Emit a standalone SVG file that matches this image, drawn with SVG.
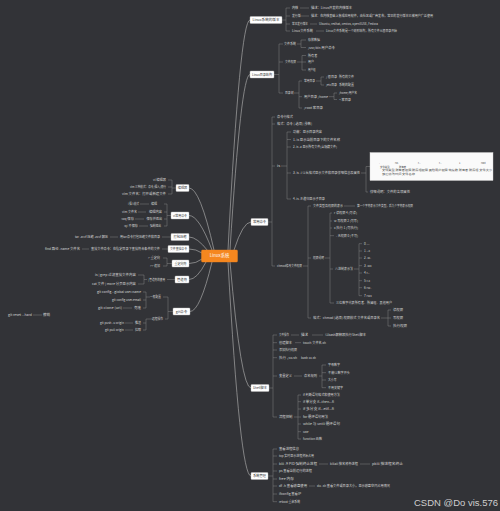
<svg xmlns="http://www.w3.org/2000/svg" width="500" height="511" viewBox="0 0 500 511">
<style>
.t{font-family:"Noto Sans CJK SC","Noto Sans",sans-serif;font-size:3.1px;fill:#d6d6d6}
.e{text-anchor:end}
.n rect{fill:#fff;stroke:#bdbdbd;stroke-width:0.4}
.n text{font-family:"Noto Sans CJK SC","Noto Sans",sans-serif;font-size:3.3px;fill:#333;text-anchor:middle}
.l{fill:none;stroke:#8a8a8a;stroke-width:0.45}
.c{fill:none;stroke:#a6a6a6;stroke-width:0.7}
.tb{font-family:"Noto Sans CJK SC","Noto Sans",sans-serif;font-size:2.4px;fill:#444}
.wm{font-family:"Liberation Sans",Arial,sans-serif;font-size:9.6px;fill:#cfcfcf}
</style>
<rect width="500" height="511" fill="#323337"/>

<g id="connectors">
<path class="c" d="M228 250Q240 20 250 20M230 250Q241 74.5 250 74.5M234 250Q243 222 251 222M230 262Q241 388 251 388M228 262Q240 476 251 476"/>
<path class="c" d="M214 250Q200 188 189 188M212 250Q199 215.5 189 215.5M208 251Q197 237 189 237M202 253Q196 249 189 249M202 259Q196 263.5 189 263.5M206 262Q197 279.5 189 279.5M212 262Q200 311.5 190 311.5"/>
<path class="l" d="M282 20H286M286 8V31M286 8H290M286 16H290M286 24H290M286 31H290M300 8H309M300 16H309M310 24H317M316 31H324"/>
<path class="l" d="M274 74.5H279M279 44V93M279 44H283M279 62H283M279 93H283M297 44H301M301 40V47.5M301 40H306M301 47.5H306M297 62H302M302 55.5V70M302 55.5H306M302 62H306M302 70H306M294 93H299M299 81V108M299 81H302M299 96.7H302M299 108H302M316 81H321M321 77V85M321 77H324M321 85H324M329 96.7H334M334 93V99.5M334 93H337M334 99.5H337"/>
<path class="l" d="M268 222H272M272 117V266M272 117H275M272 124H275M272 166H275M272 266H275M281 166H287M287 132V199M287 132H291M287 139.5H291M287 147H291M287 173H291M287 199H291M361 173H366M366 166.5V192M366 166.5H370M366 192H368M303 266H308M308 206V318M308 206H311M308 258H311M308 318H311M344 206H355M325 258H330M330 213V303M330 213H332M330 221H332M330 228H332M330 235.7H334M330 269H333M330 303H334M354 269H359M359 243.7V295.7M359 243.7H362M359 251H362M359 258H362M359 265.7H362M359 273H362M359 280.7H362M359 287.7H362M359 295.7H362M381 318H388M388 310V326M388 310H391M388 318H391M388 326H391"/>
<path class="l" d="M269 388H273M273 335V417M273 335H277M273 342.7H277M273 350H277M273 357.7H277M273 376H277M273 417H277M291 335H299M312 335H323M295 342.7H301M294 376H302M319 376H322M322 365V387.7M322 365H326M322 372.7H326M322 380H326M322 387.7H326M294 417H298M298 395V439M298 395H301M298 401.7H301M298 409H301M298 417H301M298 424H301M298 431.7H301M298 439H301"/>
<path class="l" d="M268 476H273M273 449V501.7M273 449H277M273 456H277M273 464H277M273 471H277M273 479H277M273 486H277M273 494H277M273 501.7H277M319 464H328M360 464H370M309 486H315"/>
<path class="l" d="M176 188H172M172 180V194M172 180H168M172 187H168M172 194H168M171 215.5H167M167 204V226M167 204H164M167 212H164M167 219H164M167 226H164M140 204H149M138 212H146M135 219H144M139 226H148"/>
<path class="l" d="M171 237H162M110 237H118M168 249H162M82 249H89M172 263.5H167M167 258V266M167 258H163M167 266H163M175 279.5H167M147 279.5H144M144 275V284M144 275H138M144 284H138"/>
<path class="l" d="M173 311.5H168M168 297V319M168 297H163M168 319H165M150 297H146M146 292V308M146 292H143M146 300H143M146 308H143M152 319H146M146 319V330M146 323H143M146 330H143M123 308H132M125 323H133M125 330H133M33 315H42"/>
</g>

<g id="center" class="n">
<rect x="201.5" y="250" width="36" height="12" rx="1" style="fill:#f5871f;stroke:#f5871f"/>
<text x="219.5" y="257.4" style="fill:#fff;font-size:4.3px">Linux系统</text>
</g>

<g id="r1" class="n"><rect x="250" y="16.5" width="32" height="7" rx="0.8"/><text x="266" y="21.2" textLength="27" lengthAdjust="spacingAndGlyphs">Linux系统的版本</text></g>
<g id="r2" class="n"><rect x="250" y="71" width="24" height="7" rx="0.8"/><text x="262" y="75.7" textLength="20" lengthAdjust="spacingAndGlyphs">Linux目录结构</text></g>
<g id="r3" class="n"><rect x="251" y="218.5" width="17" height="7" rx="0.8"/><text x="259.5" y="223.2" textLength="13" lengthAdjust="spacingAndGlyphs">常用命令</text></g>
<g id="r4" class="n"><rect x="251" y="384.5" width="18" height="7" rx="0.8"/><text x="260" y="389.2" textLength="14" lengthAdjust="spacingAndGlyphs">Shell脚本</text></g>
<g id="r5" class="n"><rect x="251" y="472.5" width="17" height="7" rx="0.8"/><text x="259.5" y="477.2" textLength="13" lengthAdjust="spacingAndGlyphs">系统管理</text></g>
<g id="l1" class="n"><rect x="176" y="184.5" width="13" height="7" rx="0.8"/><text x="182.5" y="189.2" textLength="9.5" lengthAdjust="spacingAndGlyphs">编辑器</text></g>
<g id="l2" class="n"><rect x="171" y="212" width="18" height="7" rx="0.8"/><text x="180" y="216.7" textLength="14" lengthAdjust="spacingAndGlyphs">vi常用命令</text></g>
<g id="l3" class="n"><rect x="171" y="233.5" width="18" height="7" rx="0.8"/><text x="180" y="238.2" textLength="13" lengthAdjust="spacingAndGlyphs">打包压缩</text></g>
<g id="l4" class="n"><rect x="168" y="245.5" width="21" height="7" rx="0.8"/><text x="178.5" y="250.2" textLength="17" lengthAdjust="spacingAndGlyphs">文件查找命令</text></g>
<g id="l5" class="n"><rect x="172" y="260" width="17" height="7" rx="0.8"/><text x="180.5" y="264.7" textLength="12" lengthAdjust="spacingAndGlyphs">重定向符</text></g>
<g id="l6" class="n"><rect x="175" y="276" width="14" height="7" rx="0.8"/><text x="182" y="280.7" textLength="10" lengthAdjust="spacingAndGlyphs">管道符</text></g>
<g id="l7" class="n"><rect x="173" y="308" width="17" height="7" rx="0.8"/><text x="181.5" y="312.7" textLength="11.5" lengthAdjust="spacingAndGlyphs">git命令</text></g>

<g id="r1-items">
<text class="t" x="292" y="9.1" textLength="6.2" lengthAdjust="spacingAndGlyphs">内核</text>
<text class="t" x="311" y="9.1" textLength="41" lengthAdjust="spacingAndGlyphs">描述：Linus开发的内核版本</text>
<text class="t" x="292" y="17.1" textLength="8.5" lengthAdjust="spacingAndGlyphs">发行版</text>
<text class="t" x="311" y="17.1" textLength="122" lengthAdjust="spacingAndGlyphs">描述：在内核基础上集成应用软件，由社区或厂商发布，常见的发行版本已被用户广泛使用</text>
<text class="t" x="292" y="25.1" textLength="16" lengthAdjust="spacingAndGlyphs">常见发行版本</text>
<text class="t" x="319" y="25.1" textLength="59" lengthAdjust="spacingAndGlyphs">Ubuntu, redhat, centos, openSUSE, Fedora</text>
<text class="t" x="292" y="32.1" textLength="21" lengthAdjust="spacingAndGlyphs">Linux文件系统</text>
<text class="t" x="326" y="32.1" textLength="71" lengthAdjust="spacingAndGlyphs">Linux文件系统是一个树形结构，所有文件从根目录开始</text>
</g>

<g id="r2-items">
<text class="t" x="284" y="45.1" textLength="12" lengthAdjust="spacingAndGlyphs">文件系统</text>
<text class="t" x="308" y="41.1" textLength="12" lengthAdjust="spacingAndGlyphs">存放数据</text>
<text class="t" x="308" y="48.6" textLength="27" lengthAdjust="spacingAndGlyphs">/usr/bin 用户命令</text>
<text class="t" x="285" y="63.1" textLength="11" lengthAdjust="spacingAndGlyphs">文件权限</text>
<text class="t" x="308" y="56.6" textLength="9.3" lengthAdjust="spacingAndGlyphs">所有者</text>
<text class="t" x="308" y="63.1" textLength="6" lengthAdjust="spacingAndGlyphs">用户</text>
<text class="t" x="308" y="71.1" textLength="7.5" lengthAdjust="spacingAndGlyphs">用户组</text>
<text class="t" x="285" y="94.1" textLength="8.5" lengthAdjust="spacingAndGlyphs">目录树</text>
<text class="t" x="304" y="82.1" textLength="11" lengthAdjust="spacingAndGlyphs">常用目录</text>
<text class="t" x="326" y="78.1" textLength="11" lengthAdjust="spacingAndGlyphs">/ 根目录</text>
<text class="t" x="339" y="78.1" textLength="15" lengthAdjust="spacingAndGlyphs">所有的文件</text>
<text class="t" x="326" y="86.1" textLength="11" lengthAdjust="spacingAndGlyphs">/etc目录</text>
<text class="t" x="339" y="86.1" textLength="15" lengthAdjust="spacingAndGlyphs">系统的配置</text>
<text class="t" x="304" y="97.8" textLength="24" lengthAdjust="spacingAndGlyphs">用户目录 /home</text>
<text class="t" x="339" y="94.1" textLength="18" lengthAdjust="spacingAndGlyphs">/home/用户名</text>
<text class="t" x="339" y="100.6" textLength="12" lengthAdjust="spacingAndGlyphs">~ 家目录</text>
<text class="t" x="304" y="109.1" textLength="19" lengthAdjust="spacingAndGlyphs">/root 家目录</text>
</g>

<g id="r3-items">
<text class="t" x="277" y="118.1" textLength="16" lengthAdjust="spacingAndGlyphs">命令行格式</text>
<text class="t" x="277" y="125.1" textLength="35" lengthAdjust="spacingAndGlyphs">格式：命令 [-选项] [参数]</text>
<text class="t" x="277" y="167.1" textLength="3" lengthAdjust="spacingAndGlyphs">ls</text>
<text class="t" x="293" y="133.1" textLength="29" lengthAdjust="spacingAndGlyphs">功能：显示目录内容</text>
<text class="t" x="293" y="140.6" textLength="47" lengthAdjust="spacingAndGlyphs">1. ls 显示当前目录下的文件名称</text>
<text class="t" x="293" y="148.1" textLength="44" lengthAdjust="spacingAndGlyphs">2. ls -a 显示所有文件(含隐藏文件)</text>
<text class="t" x="293" y="174.1" textLength="67" lengthAdjust="spacingAndGlyphs">3. ls -l 以长格式显示文件和目录详细信息及属性</text>
<text class="t" x="370" y="193.1" textLength="40" lengthAdjust="spacingAndGlyphs">详细说明：文件的各项属性</text>
<text class="t" x="293" y="200.1" textLength="32" lengthAdjust="spacingAndGlyphs">4. ls -R 递归显示子目录</text>
<text class="t" x="277" y="266.8" textLength="25" lengthAdjust="spacingAndGlyphs">chmod修改文件权限</text>
<text class="t" x="313" y="207.1" textLength="30" lengthAdjust="spacingAndGlyphs">文件类型及权限的表示</text>
<text class="t" x="357" y="207.1" textLength="56" lengthAdjust="spacingAndGlyphs">第一个字符表示文件类型，后九个字符表示权限</text>
<text class="t" x="313" y="259.1" textLength="11" lengthAdjust="spacingAndGlyphs">权限说明</text>
<text class="t" x="334" y="214.1" textLength="23" lengthAdjust="spacingAndGlyphs">r 读权限 4 (可读)</text>
<text class="t" x="334" y="222.1" textLength="24" lengthAdjust="spacingAndGlyphs">w 写权限 2 (可写)</text>
<text class="t" x="334" y="229.1" textLength="24" lengthAdjust="spacingAndGlyphs">x 执行 1 (可执行)</text>
<text class="t" x="336" y="236.8" textLength="22" lengthAdjust="spacingAndGlyphs">- 无权限 0 (不可)</text>
<text class="t" x="335" y="270.1" textLength="18" lengthAdjust="spacingAndGlyphs">八进制表示法</text>
<text class="t" x="364" y="244.8">0 ---</text>
<text class="t" x="364" y="252.1">1 --x</text>
<text class="t" x="364" y="259.1">2 -w-</text>
<text class="t" x="364" y="266.8">3 -wx</text>
<text class="t" x="364" y="274.1">4 r--</text>
<text class="t" x="364" y="281.8">5 r-x</text>
<text class="t" x="364" y="288.8">6 rw-</text>
<text class="t" x="364" y="296.8">7 rwx</text>
<text class="t" x="336" y="304.1" textLength="56" lengthAdjust="spacingAndGlyphs">三位数字代表所有者、所属组、其他用户</text>
<text class="t" x="313" y="319.1" textLength="67" lengthAdjust="spacingAndGlyphs">格式：chmod [选项] 权限模式 文件名或目录名</text>
<text class="t" x="393" y="311.1" textLength="10" lengthAdjust="spacingAndGlyphs">读权限</text>
<text class="t" x="393" y="319.1" textLength="10" lengthAdjust="spacingAndGlyphs">写权限</text>
<text class="t" x="393" y="327.1" textLength="14" lengthAdjust="spacingAndGlyphs">执行权限</text>
</g>

<g id="ls-table">
<rect x="370" y="152.5" width="123" height="28" fill="#fafafa" stroke="#cfcfcf" stroke-width="0.4"/>
<text class="tb" x="379" y="164">-</text>
<text class="tb" x="395" y="164">rw-</text>
<text class="tb" x="418" y="164">r--</text>
<text class="tb" x="439" y="164">r--</text>
<text class="tb" x="459" y="164">1</text>
<text class="tb" x="481" y="164">root</text>
<text class="tb" x="380" y="167.5">文件类型</text>
<text class="tb" x="399" y="167.5">所有者</text>
<text class="tb" x="382" y="171" textLength="110" lengthAdjust="spacingAndGlyphs">文件类型 所有者权限 所属组权限 其他用户权限 链接数 所有者 所属组 文件大小</text>
<text class="tb" x="382" y="175" textLength="33" lengthAdjust="spacingAndGlyphs">最后修改时间 文件名称</text>
</g>

<g id="r4-items">
<text class="t" x="279" y="336.1" textLength="10" lengthAdjust="spacingAndGlyphs">文件操作</text>
<text class="t" x="301" y="336.1" textLength="7" lengthAdjust="spacingAndGlyphs">描述</text>
<text class="t" x="325" y="336.1" textLength="41" lengthAdjust="spacingAndGlyphs">以bash解释器执行Shell脚本</text>
<text class="t" x="279" y="343.8" textLength="13" lengthAdjust="spacingAndGlyphs">创建脚本</text>
<text class="t" x="303" y="343.8" textLength="23" lengthAdjust="spacingAndGlyphs">touch 文件名.sh</text>
<text class="t" x="279" y="351.1" textLength="18" lengthAdjust="spacingAndGlyphs">添加执行权限</text>
<text class="t" x="279" y="358.8" textLength="18" lengthAdjust="spacingAndGlyphs">执行 ./xx.sh</text>
<text class="t" x="301" y="358.8" textLength="15" lengthAdjust="spacingAndGlyphs">bash xx.sh</text>
<text class="t" x="279" y="377.1" textLength="13" lengthAdjust="spacingAndGlyphs">变量定义</text>
<text class="t" x="304" y="377.1" textLength="13" lengthAdjust="spacingAndGlyphs">命名规则</text>
<text class="t" x="328" y="366.1" textLength="12" lengthAdjust="spacingAndGlyphs">字母数字</text>
<text class="t" x="328" y="373.8" textLength="22" lengthAdjust="spacingAndGlyphs">不能以数字开头</text>
<text class="t" x="328" y="381.1" textLength="8.5" lengthAdjust="spacingAndGlyphs">大小写</text>
<text class="t" x="328" y="388.8" textLength="15" lengthAdjust="spacingAndGlyphs">不用关键字</text>
<text class="t" x="279" y="418.1" textLength="13.5" lengthAdjust="spacingAndGlyphs">流程控制</text>
<text class="t" x="303" y="396.1" textLength="37" lengthAdjust="spacingAndGlyphs">if 判断语句格式和使用方法</text>
<text class="t" x="303" y="402.8" textLength="31" lengthAdjust="spacingAndGlyphs">if 单分支 if...then...fi</text>
<text class="t" x="303" y="410.1" textLength="31" lengthAdjust="spacingAndGlyphs">if 多分支 if...elif...fi</text>
<text class="t" x="303" y="418.1" textLength="25" lengthAdjust="spacingAndGlyphs">for 循环语句用法</text>
<text class="t" x="303" y="425.1" textLength="37" lengthAdjust="spacingAndGlyphs">while 与 until 循环语句</text>
<text class="t" x="303" y="432.8" textLength="5.5" lengthAdjust="spacingAndGlyphs">case</text>
<text class="t" x="303" y="440.1" textLength="19" lengthAdjust="spacingAndGlyphs">function 函数</text>
</g>

<g id="r5-items">
<text class="t" x="279" y="450.1" textLength="20" lengthAdjust="spacingAndGlyphs">查看进程信息</text>
<text class="t" x="279" y="457.1" textLength="35" lengthAdjust="spacingAndGlyphs">top 实时显示进程资源占用</text>
<text class="t" x="279" y="465.1" textLength="38" lengthAdjust="spacingAndGlyphs">kill -9 PID 强制终止进程</text>
<text class="t" x="330" y="465.1" textLength="28" lengthAdjust="spacingAndGlyphs">killall 按名称杀进程</text>
<text class="t" x="372" y="465.1" textLength="31" lengthAdjust="spacingAndGlyphs">pkill 按进程名终止</text>
<text class="t" x="279" y="472.1" textLength="33" lengthAdjust="spacingAndGlyphs">ps 查看当前运行的进程</text>
<text class="t" x="279" y="480.1" textLength="15" lengthAdjust="spacingAndGlyphs">free 内存</text>
<text class="t" x="279" y="487.1" textLength="28" lengthAdjust="spacingAndGlyphs">df -h 查看磁盘使用</text>
<text class="t" x="317" y="487.1" textLength="73" lengthAdjust="spacingAndGlyphs">du -sh 查看文件或目录大小，显示磁盘空间占用情况</text>
<text class="t" x="279" y="495.1" textLength="22" lengthAdjust="spacingAndGlyphs">ifconfig 查看IP</text>
<text class="t" x="279" y="502.8" textLength="21" lengthAdjust="spacingAndGlyphs">reboot 重启系统</text>
</g>

<g id="left-items" class="e">
<text class="t e" x="166" y="181.1" textLength="13" lengthAdjust="spacingAndGlyphs">vi 编辑器</text>
<text class="t e" x="166" y="188.1" textLength="36" lengthAdjust="spacingAndGlyphs">vim 三种模式：命令/插入/底行</text>
<text class="t e" x="166" y="195.1" textLength="44" lengthAdjust="spacingAndGlyphs">vim 文件名：打开或新建文件</text>
<text class="t e" x="139" y="205.1" textLength="11" lengthAdjust="spacingAndGlyphs">i 插入模式</text>
<text class="t e" x="157" y="205.1" textLength="6" lengthAdjust="spacingAndGlyphs">编辑</text>
<text class="t e" x="137" y="213.1" textLength="15" lengthAdjust="spacingAndGlyphs">vim 文件名</text>
<text class="t e" x="162" y="213.1" textLength="13" lengthAdjust="spacingAndGlyphs">编辑内容</text>
<text class="t e" x="134" y="220.1" textLength="13" lengthAdjust="spacingAndGlyphs">:wq 保存</text>
<text class="t e" x="162" y="220.1" textLength="15.5" lengthAdjust="spacingAndGlyphs">保存并退出</text>
<text class="t e" x="138" y="227.1" textLength="14" lengthAdjust="spacingAndGlyphs">:q! 不保存</text>
<text class="t e" x="161" y="227.1" textLength="11" lengthAdjust="spacingAndGlyphs">强制退出</text>
<text class="t e" x="108" y="238.1" textLength="33" lengthAdjust="spacingAndGlyphs">tar -zcvf 压缩 -zxvf 解压</text>
<text class="t e" x="160" y="238.1" textLength="40" lengthAdjust="spacingAndGlyphs">用tar命令打包压缩文件和目录</text>
<text class="t e" x="80" y="250.1" textLength="35" lengthAdjust="spacingAndGlyphs">find 路径 -name 文件名</text>
<text class="t e" x="160" y="250.1" textLength="69" lengthAdjust="spacingAndGlyphs">查找文件命令：在指定目录下查找符合条件的文件</text>
<text class="t e" x="160" y="259.1" textLength="12" lengthAdjust="spacingAndGlyphs">&gt; 重定向</text>
<text class="t e" x="160" y="267.1" textLength="10" lengthAdjust="spacingAndGlyphs">&gt;&gt; 追加</text>
<text class="t e" x="165" y="280.6" textLength="17" lengthAdjust="spacingAndGlyphs">| 管道符的使用</text>
<text class="t e" x="136" y="276.1" textLength="41" lengthAdjust="spacingAndGlyphs">ls | grep 过滤查找文件内容</text>
<text class="t e" x="136" y="285.1" textLength="44" lengthAdjust="spacingAndGlyphs">cat 文件 | more 分页显示内容</text>
<text class="t e" x="161" y="298.1" textLength="11" lengthAdjust="spacingAndGlyphs">一般配置</text>
<text class="t e" x="141" y="293.1" textLength="44" lengthAdjust="spacingAndGlyphs">git config --global user.name</text>
<text class="t e" x="141" y="301.1" textLength="29" lengthAdjust="spacingAndGlyphs">git config user.email</text>
<text class="t e" x="122" y="309.1" textLength="24" lengthAdjust="spacingAndGlyphs">git clone [url]</text>
<text class="t e" x="141" y="309.1" textLength="7" lengthAdjust="spacingAndGlyphs">克隆</text>
<text class="t e" x="163" y="320.1" textLength="11" lengthAdjust="spacingAndGlyphs">远程操作</text>
<text class="t e" x="124" y="324.1" textLength="24" lengthAdjust="spacingAndGlyphs">git push -u origin</text>
<text class="t e" x="141" y="324.1" textLength="6" lengthAdjust="spacingAndGlyphs">推送</text>
<text class="t e" x="124" y="331.1" textLength="19" lengthAdjust="spacingAndGlyphs">git pull origin</text>
<text class="t e" x="141" y="331.1" textLength="6" lengthAdjust="spacingAndGlyphs">拉取</text>
<text class="t e" x="32" y="316.1" textLength="24" lengthAdjust="spacingAndGlyphs">git reset --hard</text>
<text class="t e" x="50" y="316.1" textLength="7" lengthAdjust="spacingAndGlyphs">撤销</text>
</g>

<text class="wm" x="414" y="506" textLength="84" lengthAdjust="spacingAndGlyphs">CSDN @Do vis.576</text>
</svg>
